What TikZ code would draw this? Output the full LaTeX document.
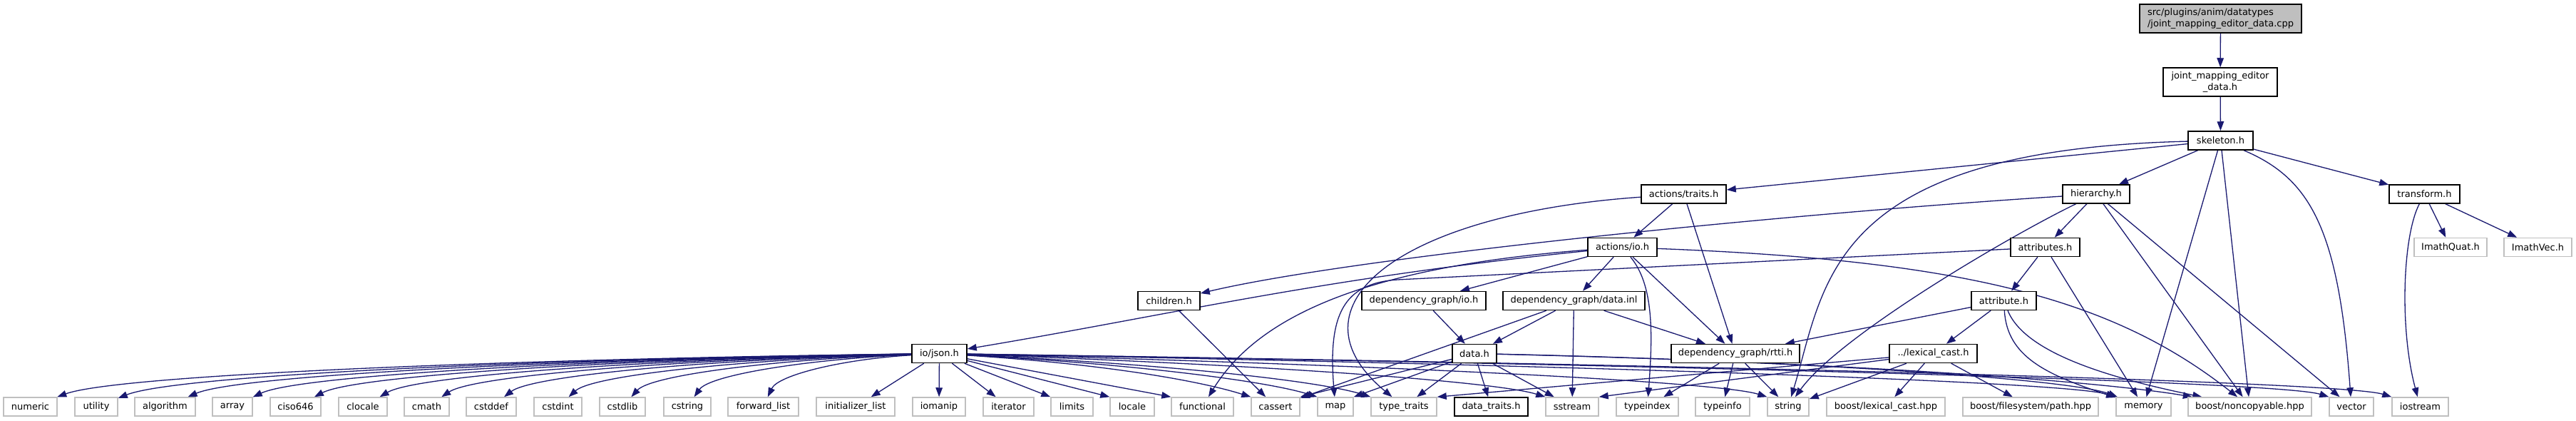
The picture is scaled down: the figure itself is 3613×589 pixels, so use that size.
\documentclass[tikz,border=0pt]{standalone}
\usepackage{fontspec}
\setmainfont{DejaVu Sans}
\usetikzlibrary{arrows.meta}
\pgfdeclarelayer{background}
\pgfsetlayers{background,main}
\definecolor{edgec}{HTML}{191970}
\definecolor{grayb}{HTML}{BFBFBF}
\tikzset{
 base/.style={rectangle, inner sep=0pt, minimum height=26pt, font=\fontsize{13}{15.5}\selectfont, fill=white},
 doc/.style={base, draw=black, line width=1.5pt},
 ext/.style={base, draw=grayb, line width=1.5pt},
 e/.style={draw=edgec, line width=1.3pt, -{Triangle[length=13pt,width=9.5pt]}},
}
\begin{document}
\begin{tikzpicture}[x=1pt,y=-1pt]
\useasboundingbox (0,0) rectangle (3613,589);
% top
\node[doc, fill=grayb, minimum width=227pt, minimum height=40pt, align=left] (cpp) at (3114.5,26) {src/plugins/anim/datatypes\\/joint\_mapping\_editor\_data.cpp};
\node[doc, minimum width=160pt, minimum height=40pt, align=center] (jmed) at (3114,115) {joint\_mapping\_editor\\\_data.h};
\node[doc, minimum width=91pt] (skel) at (3114.5,197) {skeleton.h};
\node[doc, minimum width=119pt] (traits) at (2361.5,272) {actions/traits.h};
\node[doc, minimum width=94pt] (hier) at (2940,272) {hierarchy.h};
\node[doc, minimum width=99pt] (transform) at (3400.5,272) {transform.h};
\node[doc, minimum width=97pt] (aio) at (2275.5,346.5) {actions/io.h};
\node[doc, minimum width=97pt] (attributes) at (2868.5,346.5) {attributes.h};
\node[ext, minimum width=102pt] (quat) at (3437,346.5) {ImathQuat.h};
\node[ext, minimum width=95pt] (vec) at (3559.5,346.5) {ImathVec.h};
\node[doc, minimum width=87pt] (children) at (1639.5,421.5) {children.h};
\node[doc, minimum width=174pt] (dgio) at (1997,421.5) {dependency\_graph/io.h};
\node[doc, minimum width=199pt] (datainl) at (2207.5,421.5) {dependency\_graph/data.inl};
\node[doc, minimum width=91pt] (attribute) at (2810.5,421.5) {attribute.h};
\node[doc, minimum width=77pt] (json) at (1317.5,495.5) {io/json.h};
\node[doc, minimum width=62pt] (data) at (2068,495.5) {data.h};
\node[doc, minimum width=180pt] (rtti) at (2434,495.5) {dependency\_graph/rtti.h};
\node[doc, minimum width=123pt] (lexcast) at (2711.5,495.5) {../lexical\_cast.h};
% bottom row
\node[ext, minimum width=75pt] (numeric) at (42.5,570) {numeric};
\node[ext, minimum width=60pt] (utility) at (135,570) {utility};
\node[ext, minimum width=85pt] (algorithm) at (231.5,570) {algorithm};
\node[ext, minimum width=56pt] (array) at (326,570) {array};
\node[ext, minimum width=71pt] (ciso) at (414.5,570) {ciso646};
\node[ext, minimum width=68pt] (clocale) at (509,570) {clocale};
\node[ext, minimum width=63pt] (cmath) at (598.5,570) {cmath};
\node[ext, minimum width=70pt] (cstddef) at (689,570) {cstddef};
\node[ext, minimum width=67pt] (cstdint) at (782.5,570) {cstdint};
\node[ext, minimum width=64pt] (cstdlib) at (873,570) {cstdlib};
\node[ext, minimum width=66pt] (cstring) at (964,570) {cstring};
\node[ext, minimum width=99pt] (fwdlist) at (1070.5,570) {forward\_list};
\node[ext, minimum width=110pt] (initlist) at (1200,570) {initializer\_list};
\node[ext, minimum width=74pt] (iomanip) at (1317,570) {iomanip};
\node[ext, minimum width=71pt] (iterator) at (1414.5,570) {iterator};
\node[ext, minimum width=59pt] (limits) at (1503.5,570) {limits};
\node[ext, minimum width=62pt] (locale) at (1588,570) {locale};
\node[ext, minimum width=87pt] (functional) at (1686.5,570) {functional};
\node[ext, minimum width=68pt] (cassert) at (1789,570) {cassert};
\node[ext, minimum width=50pt] (map) at (1873,570) {map};
\node[ext, minimum width=92pt] (ttraits) at (1969,570) {type\_traits};
\node[doc, minimum width=103pt] (dtraits) at (2091.5,570) {data\_traits.h};
\node[ext, minimum width=74pt] (sstream) at (2205,570) {sstream};
\node[ext, minimum width=87pt] (typeindex) at (2310.5,570) {typeindex};
\node[ext, minimum width=76pt] (typeinfo) at (2416,570) {typeinfo};
\node[ext, minimum width=58pt] (string) at (2508,570) {string};
\node[ext, minimum width=166pt] (boostlc) at (2645,570) {boost/lexical\_cast.hpp};
\node[ext, minimum width=190pt] (path) at (2848,570) {boost/filesystem/path.hpp};
\node[ext, minimum width=77pt] (memory) at (3006.5,570) {memory};
\node[ext, minimum width=173pt] (noncop) at (3155.5,570) {boost/noncopyable.hpp};
\node[ext, minimum width=62pt] (vector) at (3298,570) {vector};
\node[ext, minimum width=79pt] (iostream) at (3394.5,570) {iostream};

\begin{pgfonlayer}{background}
\fill[white] (0,0) rectangle (3613,589);
\draw[e] (cpp) -- (jmed);
\draw[e] (jmed) -- (skel);
% skeleton
\draw[e] (skel) -- (traits);
\draw[e] (skel) -- (hier);
\draw[e] (skel) -- (transform);
\draw[e] (skel) .. controls (2560,210) and (2560,400) .. (string);
\draw[e] (skel) -- (memory);
\draw[e] (skel) -- (noncop);
\draw[e] (skel) .. controls (3240,250) and (3280,320) .. (vector);
% traits
\draw[e] (traits) -- (aio);
\draw[e] (traits) -- (rtti);
\draw[e] (traits) .. controls (1960,300) and (1800,430) .. (ttraits);
% hierarchy
\draw[e] (hier) .. controls (2500,300) and (1900,360) .. (children);
\draw[e] (hier) -- (attributes);
\draw[e] (hier) .. controls (2820,330) and (2580,470) .. (string);
\draw[e] (hier) -- (noncop);
\draw[e] (hier) -- (vector);
% transform
\draw[e] (transform) -- (quat);
\draw[e] (transform) -- (vec);
\draw[e] (transform) .. controls (3370,330) and (3365,460) .. (iostream);
% actions/io.h
\draw[e] (aio) .. controls (1850,390) and (1650,440) .. (json);
\draw[e] (aio) .. controls (1900,375) and (1760,450) .. (functional);
\draw[e] (aio) -- (dgio);
\draw[e] (aio) -- (datainl);
\draw[e] (aio) .. controls (2320,400) and (2318,470) .. (typeindex);
\draw[e] (aio) -- (rtti);
\draw[e] (aio) .. controls (2760,365) and (2965,420) .. (noncop);
% data.inl
\draw[e] (datainl) -- (data);
\draw[e] (datainl) -- (rtti);
\draw[e] (datainl) -- (sstream);
\draw[e] (datainl) -- (cassert);
% dependency_graph/io.h
\draw[e] (dgio) -- (data);
% rtti
\draw[e] (rtti) -- (typeindex);
\draw[e] (rtti) -- (typeinfo);
\draw[e] (rtti) -- (string);
% attributes
\draw[e] (attributes) -- (attribute);
\draw[e] (attributes) -- (memory);
\draw[e] (attributes) -- (1960,392) .. controls (1885,397) and (1862,440) .. (map);
% attribute
\draw[e] (attribute) -- (rtti);
\draw[e] (attribute) -- (lexcast);
\draw[e] (attribute) .. controls (2815,500) and (2870,525) .. (memory);
\draw[e] (attribute) .. controls (2840,495) and (2960,530) .. (noncop);
% lexical_cast
\draw[e] (lexcast) -- (ttraits.north east);
\draw[e] (lexcast) -- (sstream.north east);
\draw[e] (lexcast) -- (string);
\draw[e] (lexcast) -- (boostlc);
\draw[e] (lexcast) -- (path);
% children
\draw[e] (children) -- (cassert);
% data.h
\draw[e] (data) -- (cassert.north east);
\draw[e] (data) -- (map.north east);
\draw[e] (data) -- (ttraits);
\draw[e] (data) -- (dtraits);
\draw[e] (data) -- (sstream);
\draw[e] (data) .. controls (2500,505) and (2900,530) .. (memory);
\draw[e] (data) .. controls (2600,508) and (2950,535) .. (noncop);
% json left fan
\foreach \t/\tx in {numeric/42.5, utility/135, algorithm/231.5, array/326, ciso/414.5, clocale/509, cmath/598.5, cstddef/689, cstdint/782.5, cstdlib/873, cstring/964, fwdlist/1070.5}
  \draw[e] (json) .. controls ({1279-0.45*(1279-\tx)},503) and ({\tx+0.1*(1279-\tx)},525) .. (\t);
\draw[e] (json) -- (initlist);
\draw[e] (json) -- (iomanip);
\draw[e] (json) -- (iterator);
\draw[e] (json) -- (limits.north west);
\draw[e] (json) -- (locale.north west);
\draw[e] (json) -- (functional.north west);
% json right
\foreach \t/\tx in {cassert/1789, map/1873, ttraits/1969, sstream/2205, string/2508, memory/3006.5, vector/3298, iostream/3394.5}
  \draw[e] (json) .. controls +({0.5*(\tx-1317)},15) and +(-70,-22) .. (\t.north west);
\end{pgfonlayer}
\end{tikzpicture}
\end{document}
